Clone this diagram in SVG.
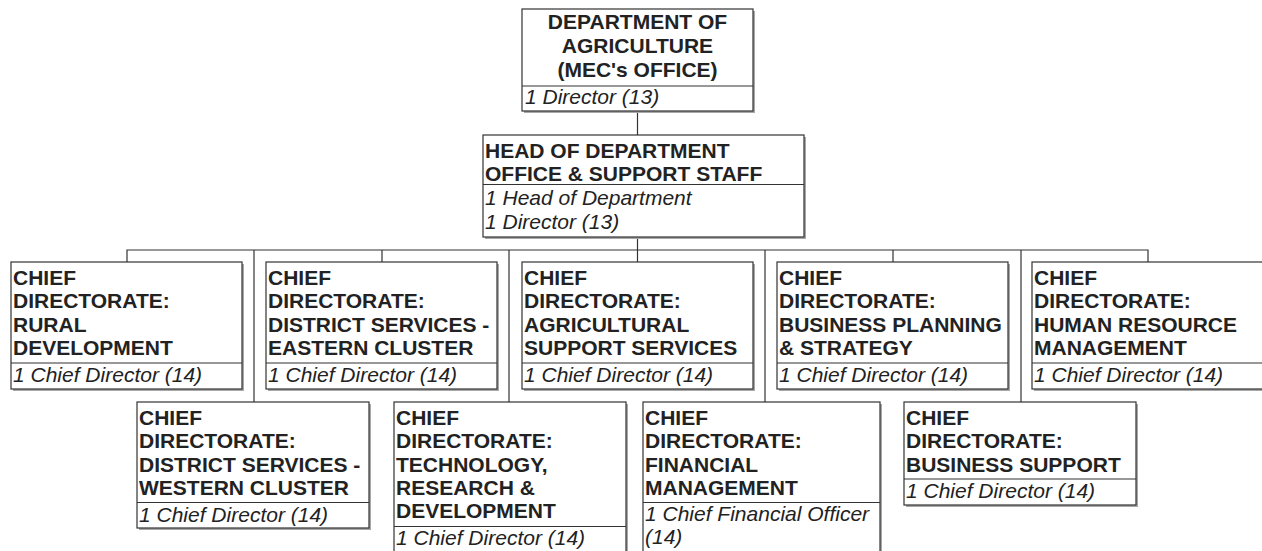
<svg xmlns="http://www.w3.org/2000/svg" width="1262" height="551" viewBox="0 0 1262 551">
<style>
.bg{fill:#fff}
.sh{fill:#a8a8a8}
.bx{fill:#fff;stroke:#333;stroke-width:1.2}
.dv{stroke:#333;stroke-width:1.2}
.cn{fill:none;stroke:#333;stroke-width:1.2}
.t{font-family:"Liberation Sans",Arial,sans-serif;font-size:21px;font-weight:bold;fill:#222}
.c{text-anchor:middle}
.i{font-family:"Liberation Sans",Arial,sans-serif;font-size:21px;font-style:italic;fill:#222}
</style>
<rect class="bg" x="0" y="0" width="1262" height="551"/>
<g id="connectors">
<path class="cn" d="M637.5,111 V135"/>
<path class="cn" d="M637.5,237 V262"/>
<path class="cn" d="M127,262 V250 H1148 V262"/>
<path class="cn" d="M382,250 V262"/>
<path class="cn" d="M893,250 V262"/>
<path class="cn" d="M254,250 V402"/>
<path class="cn" d="M509,250 V402"/>
<path class="cn" d="M765,250 V402"/>
<path class="cn" d="M1021,250 V402"/>
</g>
<g id="mec">
<rect class="sh" x="524" y="11" width="231" height="102"/>
<rect class="bx" x="522" y="9" width="231" height="102"/>
<line class="dv" x1="522" y1="86" x2="753" y2="86"/>
<text class="t c" x="637.5" y="29">DEPARTMENT OF</text>
<text class="t c" x="637.5" y="53">AGRICULTURE</text>
<text class="t c" x="637.5" y="77">(MEC's OFFICE)</text>
<text class="i" x="525" y="104">1 Director (13)</text>
</g>
<g id="hod">
<rect class="sh" x="485" y="137" width="321" height="102"/>
<rect class="bx" x="483" y="135" width="321" height="102"/>
<line class="dv" x1="483" y1="184.5" x2="804" y2="184.5"/>
<text class="t" x="485" y="158">HEAD OF DEPARTMENT</text>
<text class="t" x="485" y="181">OFFICE &amp; SUPPORT STAFF</text>
<text class="i" x="485" y="205">1 Head of Department</text>
<text class="i" x="485" y="229">1 Director (13)</text>
</g>
<g id="rural">
<rect class="sh" x="13" y="264" width="231" height="127"/>
<rect class="bx" x="11" y="262" width="231" height="127"/>
<line class="dv" x1="11" y1="363" x2="242" y2="363"/>
<text class="t" x="13" y="285">CHIEF</text>
<text class="t" x="13" y="308.3">DIRECTORATE:</text>
<text class="t" x="13" y="331.6">RURAL</text>
<text class="t" x="13" y="355">DEVELOPMENT</text>
<text class="i" x="13" y="382">1 Chief Director (14)</text>
</g>
<g id="eastern">
<rect class="sh" x="268" y="264" width="231" height="127"/>
<rect class="bx" x="266" y="262" width="231" height="127"/>
<line class="dv" x1="266" y1="363" x2="497" y2="363"/>
<text class="t" x="268" y="285">CHIEF</text>
<text class="t" x="268" y="308.3">DIRECTORATE:</text>
<text class="t" x="268" y="331.6">DISTRICT SERVICES -</text>
<text class="t" x="268" y="355">EASTERN CLUSTER</text>
<text class="i" x="268" y="382">1 Chief Director (14)</text>
</g>
<g id="agri">
<rect class="sh" x="524" y="264" width="231" height="127"/>
<rect class="bx" x="522" y="262" width="231" height="127"/>
<line class="dv" x1="522" y1="363" x2="753" y2="363"/>
<text class="t" x="524" y="285">CHIEF</text>
<text class="t" x="524" y="308.3">DIRECTORATE:</text>
<text class="t" x="524" y="331.6">AGRICULTURAL</text>
<text class="t" x="524" y="355">SUPPORT SERVICES</text>
<text class="i" x="524" y="382">1 Chief Director (14)</text>
</g>
<g id="bizplan">
<rect class="sh" x="779" y="264" width="231" height="127"/>
<rect class="bx" x="777" y="262" width="231" height="127"/>
<line class="dv" x1="777" y1="363" x2="1008" y2="363"/>
<text class="t" x="779" y="285">CHIEF</text>
<text class="t" x="779" y="308.3">DIRECTORATE:</text>
<text class="t" x="779" y="331.6">BUSINESS PLANNING</text>
<text class="t" x="779" y="355">&amp; STRATEGY</text>
<text class="i" x="779" y="382">1 Chief Director (14)</text>
</g>
<g id="hrm">
<rect class="sh" x="1034" y="264" width="231" height="127"/>
<rect class="bx" x="1032" y="262" width="231" height="127"/>
<line class="dv" x1="1032" y1="363" x2="1263" y2="363"/>
<text class="t" x="1034" y="285">CHIEF</text>
<text class="t" x="1034" y="308.3">DIRECTORATE:</text>
<text class="t" x="1034" y="331.6">HUMAN RESOURCE</text>
<text class="t" x="1034" y="355">MANAGEMENT</text>
<text class="i" x="1034" y="382">1 Chief Director (14)</text>
</g>
<g id="western">
<rect class="sh" x="139" y="404" width="232" height="126"/>
<rect class="bx" x="137" y="402" width="232" height="126"/>
<line class="dv" x1="137" y1="502.5" x2="369" y2="502.5"/>
<text class="t" x="139" y="425">CHIEF</text>
<text class="t" x="139" y="448.3">DIRECTORATE:</text>
<text class="t" x="139" y="471.6">DISTRICT SERVICES -</text>
<text class="t" x="139" y="495">WESTERN CLUSTER</text>
<text class="i" x="139" y="522">1 Chief Director (14)</text>
</g>
<g id="tech">
<rect class="sh" x="396" y="404" width="232" height="160"/>
<rect class="bx" x="394" y="402" width="232" height="160"/>
<line class="dv" x1="394" y1="526.5" x2="626" y2="526.5"/>
<text class="t" x="396" y="425">CHIEF</text>
<text class="t" x="396" y="448.3">DIRECTORATE:</text>
<text class="t" x="396" y="471.6">TECHNOLOGY,</text>
<text class="t" x="396" y="495">RESEARCH &amp;</text>
<text class="t" x="396" y="518.3">DEVELOPMENT</text>
<text class="i" x="396" y="545">1 Chief Director (14)</text>
</g>
<g id="finance">
<rect class="sh" x="645" y="404" width="237" height="160"/>
<rect class="bx" x="643" y="402" width="237" height="160"/>
<line class="dv" x1="643" y1="502.5" x2="880" y2="502.5"/>
<text class="t" x="645" y="425">CHIEF</text>
<text class="t" x="645" y="448.3">DIRECTORATE:</text>
<text class="t" x="645" y="471.6">FINANCIAL</text>
<text class="t" x="645" y="495">MANAGEMENT</text>
<text class="i" x="645" y="521">1 Chief Financial Officer</text>
<text class="i" x="645" y="544">(14)</text>
</g>
<g id="bizsupport">
<rect class="sh" x="906" y="404" width="232" height="103"/>
<rect class="bx" x="904" y="402" width="232" height="103"/>
<line class="dv" x1="904" y1="479" x2="1136" y2="479"/>
<text class="t" x="906" y="425">CHIEF</text>
<text class="t" x="906" y="448.3">DIRECTORATE:</text>
<text class="t" x="906" y="471.6">BUSINESS SUPPORT</text>
<text class="i" x="906" y="498">1 Chief Director (14)</text>
</g>
</svg>
